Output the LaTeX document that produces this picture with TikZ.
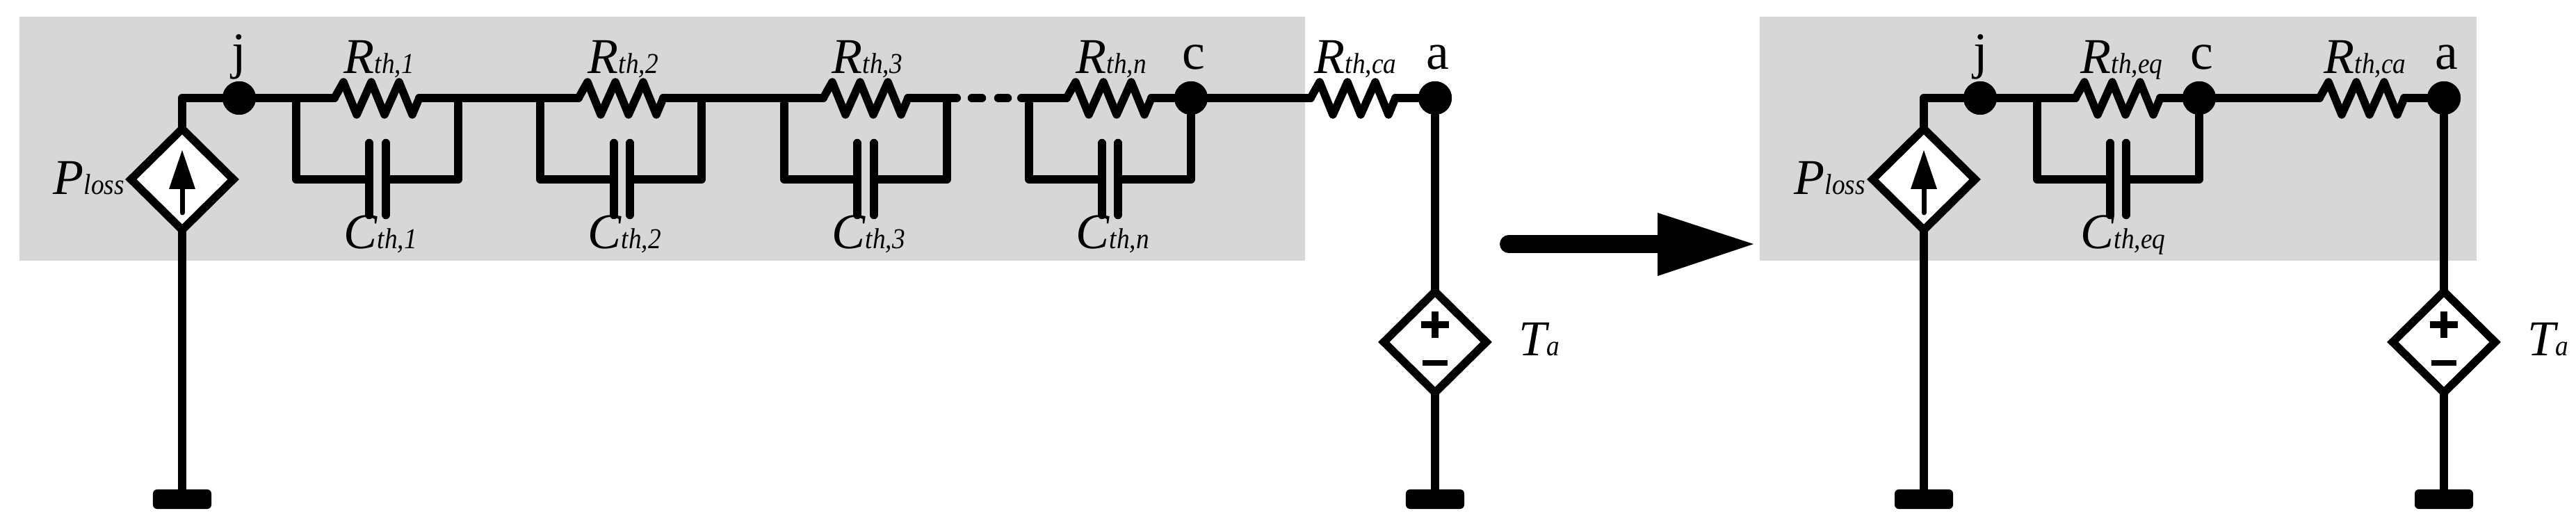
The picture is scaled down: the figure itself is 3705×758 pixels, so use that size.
\documentclass[tikz,border=0pt]{standalone}
\usepackage{fontspec}
\usepackage{graphicx}
\setmainfont{Liberation Serif}
\usetikzlibrary{shapes.geometric}
\definecolor{panelgrey}{HTML}{D7D7D7}
\newcommand\biglab[2]{{\fontsize{20.5pt}{22pt}\selectfont\itshape #1}\scalebox{.9}[1]{\fontsize{11.8pt}{13pt}\selectfont\itshape #2}}
\newcommand\rblock[2]{%
  \coordinate (#1a) at (#2,141);
  \coordinate (#1b) at (#2+122,141);
  \draw[res] (#1a) -- ++(13,-23) -- ++(19,47) -- ++(21,-47) -- ++(19,47) -- ++(21,-47) -- ++(19,47) -- (#1b);
}
\newcommand\cblock[5]{%
  \coordinate (#1l) at (#2,141);
  \coordinate (#1r) at (#5,141);
  \coordinate (#1p) at (#3,258);
  \coordinate (#1q) at (#4,258);
  \draw[wire] (#1l) |- (#1p);
  \draw[wire] (#1r) |- (#1q);
  \draw[plate] (#3,206) -- (#3,309);
  \draw[plate] (#4,206) -- (#4,309);
}
\newcommand\sourcearrow[1]{%
  \draw[line width=.07cm,line cap=round] (#1.center) ++(0,48) -- ++(0,-40);
  \fill (#1.center) ++(0,-42) -- ++(19,56) -- ++(-38,0) -- cycle;
}
\newcommand\sourcepolarity[1]{%
  \draw[line width=.1cm] (#1.center) ++(-20,-25) -- ++(40,0);
  \draw[line width=.1cm] (#1.center) ++(0,-44) -- ++(0,38);
  \draw[line width=.085cm] (#1.center) ++(-18,30) -- ++(36,0);
}
\tikzset{
  wire/.style={line width=.12cm,line cap=round,line join=round},
  res/.style={line width=.115cm,line cap=round,line join=round},
  plate/.style={line width=.125cm,line cap=round},
  panel/.style={fill=panelgrey,draw=none},
  dotnode/.style={circle,fill=black,draw=none,minimum size=.48cm,inner sep=0pt},
  srcnode/.style={diamond,draw=black,fill=white,line width=.115cm,minimum width=1.52cm,minimum height=1.50cm,inner sep=0pt,aspect=1},
  gndnode/.style={rectangle,fill=black,rounded corners=.06cm,minimum height=.28cm,inner sep=0pt},
  lab/.style={anchor=base west,inner sep=0pt},
  letter/.style={anchor=base,inner sep=0pt,font=\fontsize{21pt}{23pt}\selectfont},
}
\begin{document}
\begin{tikzpicture}[x=.01cm,y=-.01cm]
\useasboundingbox (0,0) rectangle (3705,758);
% panels
\fill[panel] (28,24) rectangle (1877,375);
\fill[panel] (2531,24) rectangle (3562,375);
% nodes of the left circuit
\node[dotnode] (j1) at (344,141) {};
\node[dotnode] (c1) at (1713,141) {};
\node[dotnode] (a1) at (2064,141) {};
\coordinate (s1top) at (262,141);
\coordinate (g1t) at (262,718);
\coordinate (g2t) at (2064,718);
% wires
\draw[wire] (262,181) -- (s1top) -- (j1);
\draw[wire] (262,330) -- (g1t);
\draw[wire] (a1) -- (g2t);
\rblock{ra}{481}
\rblock{rb}{832}
\rblock{rc}{1184}
\rblock{rn}{1534}
\rblock{rca}{1885}
\cblock{ca}{426}{531}{555}{659}
\cblock{cb}{777}{883}{906}{1009}
\cblock{cc}{1128}{1233}{1257}{1362}
\cblock{cn}{1480}{1585}{1608}{1713}
\coordinate (dotsend) at (1376,141);
\coordinate (dotsstart) at (1469,141);
\draw[wire] (j1) -- (raa);
\draw[wire] (rab) -- (rba);
\draw[wire] (rbb) -- (rca);
\draw[wire] (rcb) -- (dotsend);
\draw[wire] (dotsstart) -- (rna);
\draw[wire] (rnb) -- (c1);
\draw[wire] (c1) -- (rcaa);
\draw[wire] (rcab) -- (a1);
\draw[line width=.125cm,line cap=round] (1398,141) -- (1412,141);
\draw[line width=.125cm,line cap=round] (1436,141) -- (1449,141);
\node[dotnode] at (j1) {};
\node[dotnode] at (c1) {};
\node[dotnode] at (a1) {};
\node[srcnode] (s1) at (262,258) {};
\sourcearrow{s1}
\node[srcnode] (v1) at (2064,492) {};
\sourcepolarity{v1}
\node[gndnode,minimum width=.84cm] (g1) at (262,718) {};
\node[gndnode,minimum width=.84cm] (g2) at (2064,718) {};
% labels left
\node[letter] (lj1) at (344,99) {j};
\node[letter] (lc1) at (1717,100) {c};
\node[letter] (la1) at (2068,100) {a};
\node[lab] (lp1) at (76,280) {\biglab{P}{loss}};
\node[lab] (lt1) at (2184,512) {\biglab{T}{a}};
\node[lab] (lr1) at (494,106) {\biglab{R}{th,1}};
\node[lab] (lr2) at (845,106) {\biglab{R}{th,2}};
\node[lab] (lr3) at (1196,106) {\biglab{R}{th,3}};
\node[lab] (lrn) at (1547,106) {\biglab{R}{th,n}};
\node[lab] (lrca) at (1890,106) {\biglab{R}{th,ca}};
\node[lab] (lc1a) at (494,358) {\biglab{C}{th,1}};
\node[lab] (lc2) at (845,358) {\biglab{C}{th,2}};
\node[lab] (lc3) at (1196,358) {\biglab{C}{th,3}};
\node[lab] (lcn) at (1547,358) {\biglab{C}{th,n}};
% big arrow
\coordinate (ashaft) at (2170,351);
\coordinate (abase) at (2384,351);
\coordinate (atip) at (2522,351);
\draw[line width=.26cm,line cap=round] (ashaft) -- (abase);
\fill (abase) ++(0,-45) -- (atip) -- ++(-138,46) -- cycle;
% right circuit
\node[dotnode] (j2) at (2848,141) {};
\node[dotnode] (c2) at (3163,141) {};
\node[dotnode] (a2) at (3515,141) {};
\coordinate (s2top) at (2767,141);
\coordinate (g3t) at (2767,718);
\coordinate (g4t) at (3515,718);
\draw[wire] (2767,181) -- (s2top) -- (j2);
\draw[wire] (2767,330) -- (g3t);
\draw[wire] (a2) -- (g4t);
\rblock{re}{2985}
\rblock{rf}{3336}
\cblock{ce}{2930}{3035}{3058}{3163}
\draw[wire] (j2) -- (rea);
\draw[wire] (reb) -- (c2);
\draw[wire] (c2) -- (rfa);
\draw[wire] (rfb) -- (a2);
\node[dotnode] at (j2) {};
\node[dotnode] at (c2) {};
\node[dotnode] at (a2) {};
\node[srcnode] (s2) at (2767,258) {};
\sourcearrow{s2}
\node[srcnode] (v2) at (3515,492) {};
\sourcepolarity{v2}
\node[gndnode,minimum width=.84cm] (g3) at (2767,718) {};
\node[gndnode,minimum width=.84cm] (g4) at (3515,718) {};
\node[letter] (lj2) at (2849,99) {j};
\node[letter] (lc2b) at (3167,100) {c};
\node[letter] (la2) at (3519,100) {a};
\node[lab] (lp2) at (2580,280) {\biglab{P}{loss}};
\node[lab] (lt2) at (3635,512) {\biglab{T}{a}};
\node[lab] (lre) at (2992,106) {\biglab{R}{th,eq}};
\node[lab] (lrf) at (3342,106) {\biglab{R}{th,ca}};
\node[lab] (lce) at (2992,358) {\biglab{C}{th,eq}};
\end{tikzpicture}
\end{document}
